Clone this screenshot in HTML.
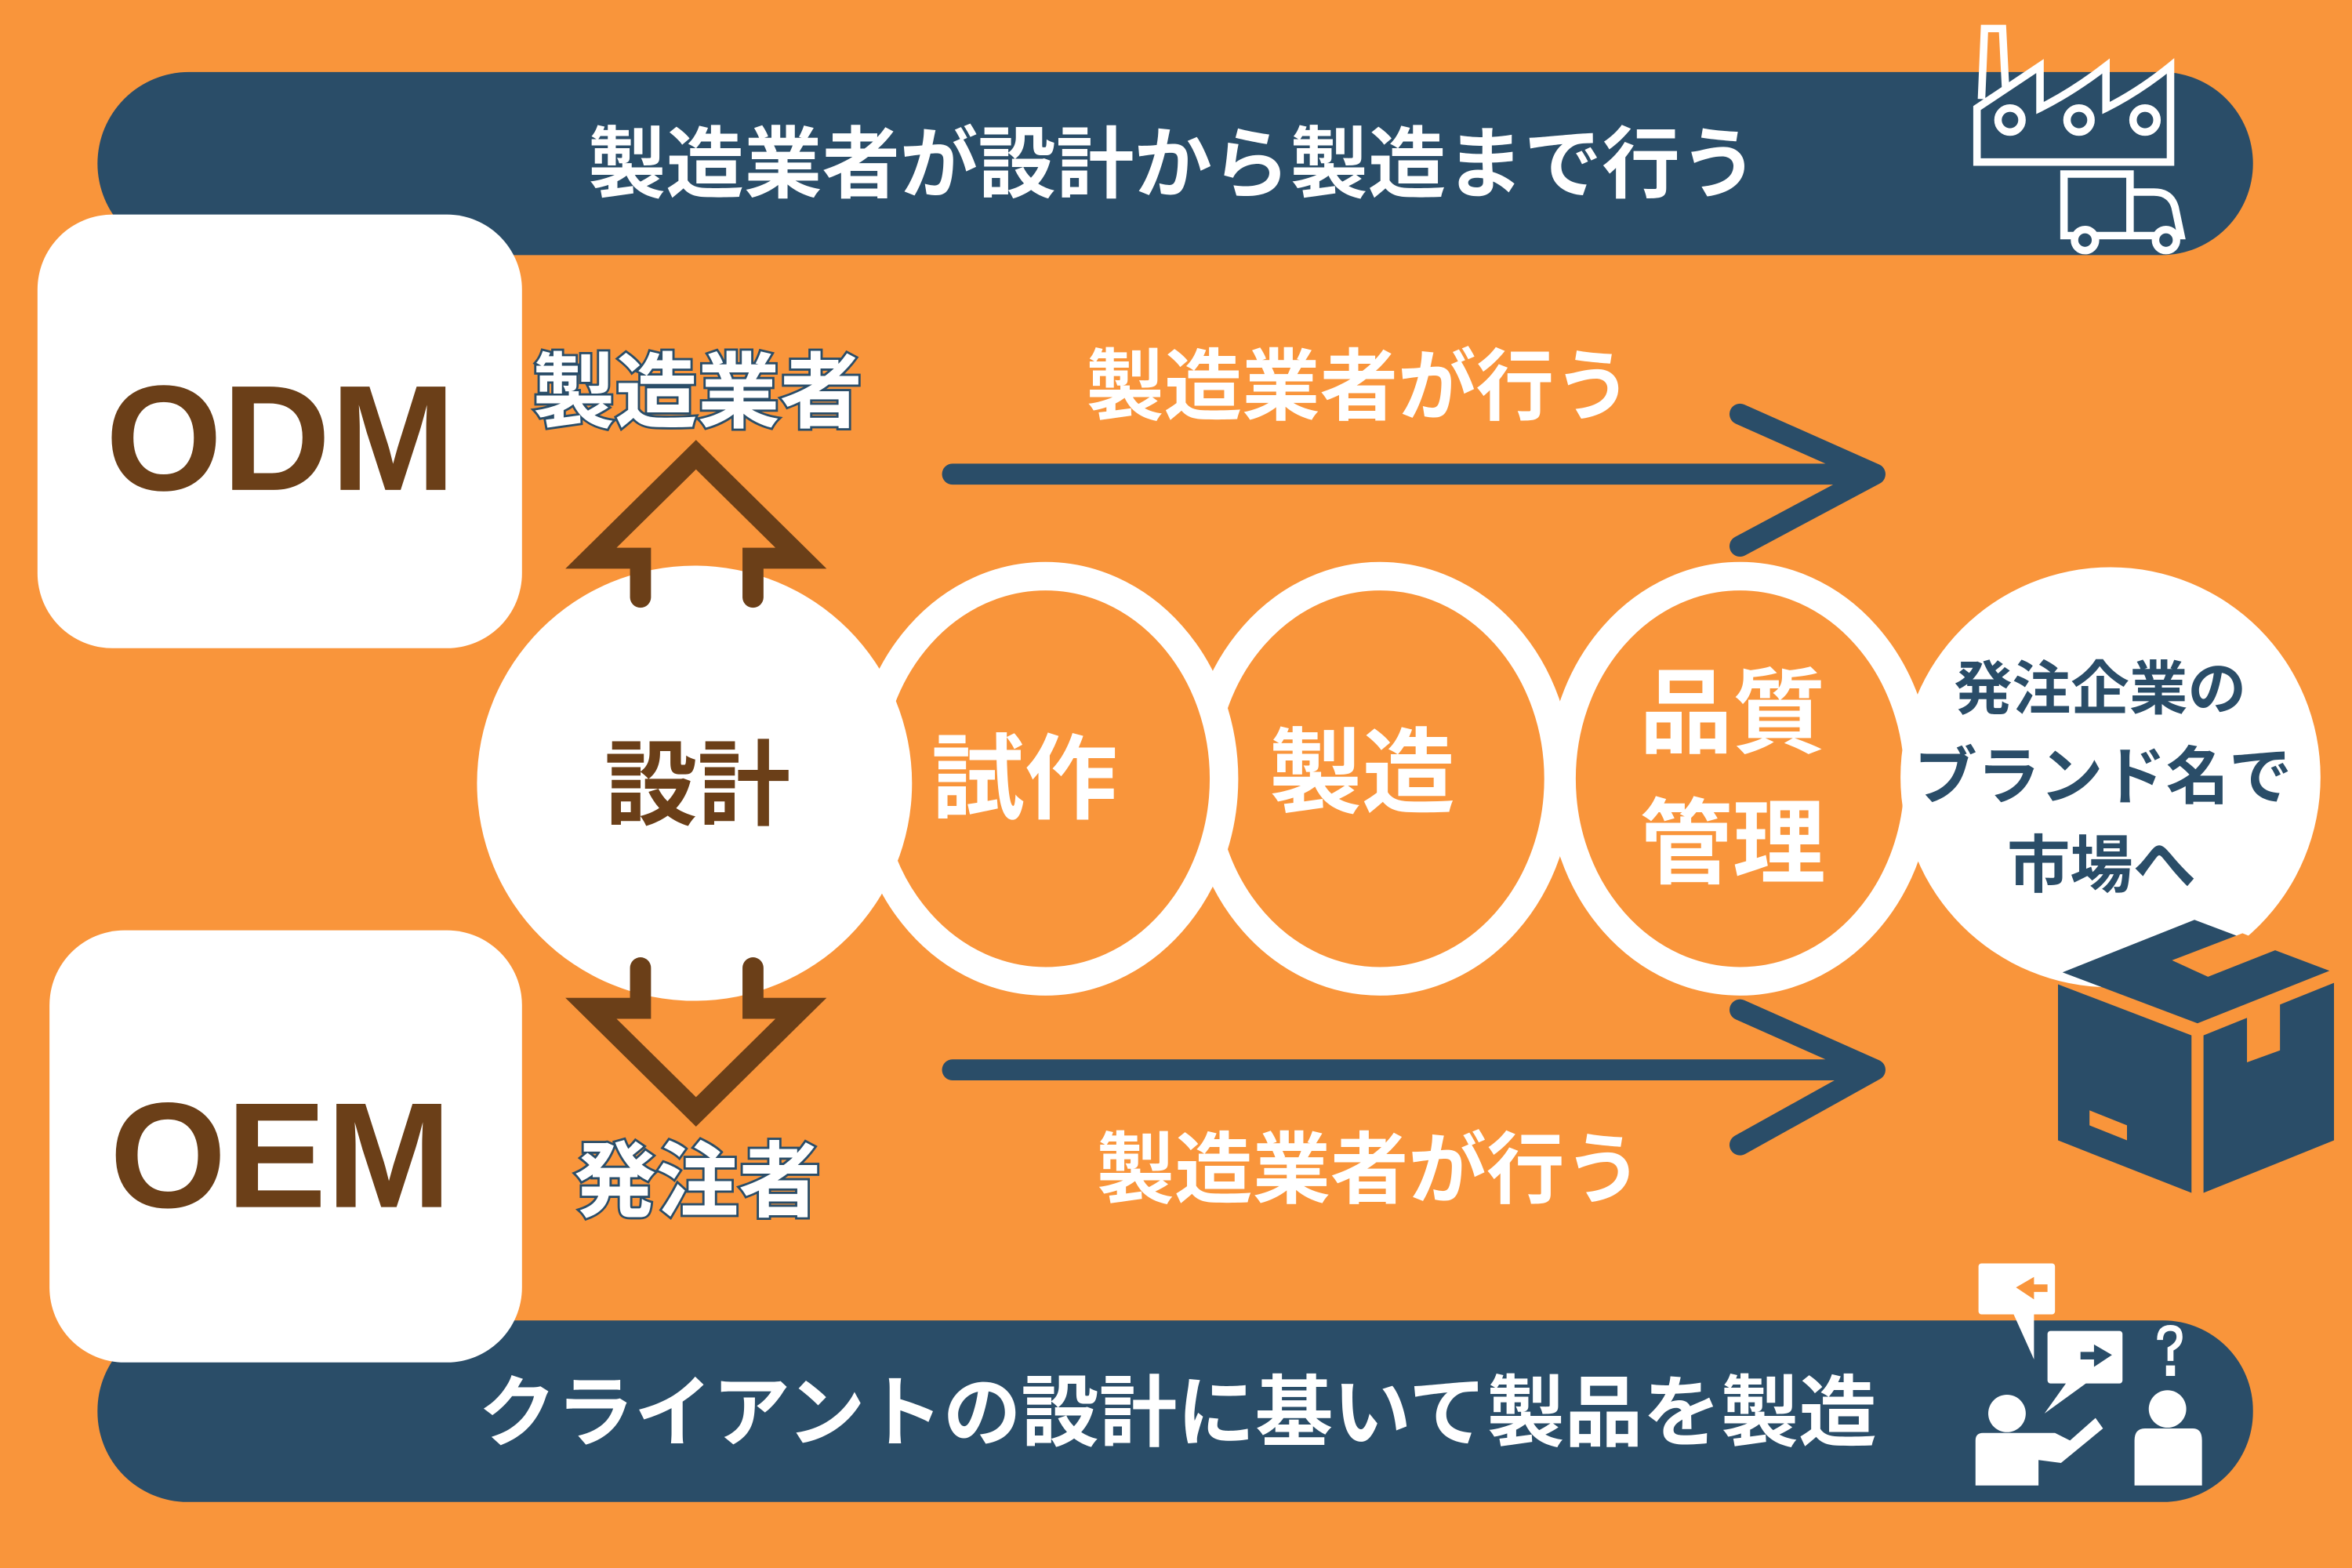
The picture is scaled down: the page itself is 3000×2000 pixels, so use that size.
<!DOCTYPE html>
<html><head><meta charset="utf-8"><style>
html,body{margin:0;padding:0;background:#F9953B;}
svg{display:block}
text{font-family:"Liberation Sans","Noto Sans CJK JP",sans-serif;font-weight:bold;text-anchor:middle;dominant-baseline:central}
</style></head><body>
<svg width="3000" height="2000" viewBox="0 0 1568 1045" preserveAspectRatio="none" xmlns="http://www.w3.org/2000/svg">
<rect width="1568" height="1045" fill="#F9953B"/>
<!-- bars -->
<rect x="65" y="48" width="1437" height="122" rx="61" fill="#2A4D68"/>
<rect x="65" y="880" width="1437" height="121" rx="60" fill="#2A4D68"/>
<text x="782" y="110" font-size="52" fill="#fff">製造業者が設計から製造まで行う</text>
<text x="785" y="942" font-size="52" fill="#fff">クライアントの設計に基いて製品を製造</text>
<!-- boxes -->
<rect x="25" y="143" width="323" height="289" rx="50" fill="#fff"/>
<rect x="33" y="620" width="315" height="288" rx="50" fill="#fff"/>
<text x="187" y="292" font-size="100" fill="#6B3F18">ODM</text>
<text x="187" y="770" font-size="100" fill="#6B3F18">OEM</text>
<!-- circles -->
<ellipse cx="1160" cy="519" rx="119" ry="135" fill="#F9953B" stroke="#fff" stroke-width="19"/>
<ellipse cx="920" cy="519" rx="119" ry="135" fill="#F9953B" stroke="#fff" stroke-width="19"/>
<ellipse cx="697" cy="519" rx="119" ry="135" fill="#F9953B" stroke="#fff" stroke-width="19"/>
<circle cx="463" cy="522" r="145" fill="#fff"/>
<circle cx="1407" cy="518" r="140" fill="#fff"/>
<text x="465" y="524" font-size="62" fill="#6B3F18">設計</text>
<text x="683" y="520" font-size="62" fill="#fff">試作</text>
<text x="908" y="516" font-size="62" fill="#fff">製造</text>
<text x="1155" y="476" font-size="62" fill="#fff">品質</text>
<text x="1155" y="563" font-size="62" fill="#fff">管理</text>
<text x="1400" y="459" font-size="39" fill="#2A4D68">発注企業の</text>
<text x="1402" y="518" font-size="42" fill="#2A4D68" font-weight="normal">ブランド名で</text>
<text x="1401" y="577" font-size="42" fill="#2A4D68" font-weight="normal">市場へ</text>
<!-- up/down arrows -->
<g fill="none" stroke="#6B3F18" stroke-width="14" stroke-linejoin="miter" stroke-linecap="round">
<path d="M427,398 L427,372 L394,372 L464,303 L534,372 L502,372 L502,398"/>
<path d="M427,645 L427,672 L394,672 L464,741 L534,672 L502,672 L502,645"/>
</g>
<text x="465" y="262" font-size="55" fill="#fff" stroke="#2A4D68" stroke-width="3" paint-order="stroke">製造業者</text>
<text x="465" y="788" font-size="55" fill="#fff" stroke="#2A4D68" stroke-width="3" paint-order="stroke">発注者</text>
<!-- long arrows -->
<g fill="none" stroke="#2A4D68" stroke-width="14" stroke-linecap="round" stroke-linejoin="round">
<path d="M635,316 L1248,316 M1160,276 L1250,316 L1160,364"/>
<path d="M635,713 L1248,713 M1160,673 L1250,713 L1160,763"/>
</g>
<text x="906" y="258" font-size="52" fill="#fff">製造業者が行う</text>
<text x="913" y="780" font-size="52" fill="#fff">製造業者が行う</text>
<!-- factory icon -->
<g fill="none" stroke="#fff" stroke-width="5">
<path d="M1321,66 L1323,19 L1335,19 L1337,58"/>
<path d="M1318,108 L1318,72 L1360,44 L1360,72 Q1382,61 1404,44 L1404,72 Q1426,61 1447,44 L1447,108 Z"/>
<circle cx="1340" cy="80" r="8"/><circle cx="1386" cy="80" r="8"/><circle cx="1430" cy="80" r="8"/>
<path d="M1376,116 L1420,116 L1420,128 L1436,128 Q1447,128 1450,138 L1454,157 L1376,157 Z M1420,128 L1420,157"/>
<circle cx="1390" cy="160" r="7" fill="#2A4D68"/><circle cx="1444" cy="160" r="7" fill="#2A4D68"/>
</g>
<!-- box icon -->
<g fill="#2A4D68">
<polygon points="1375,648 1463,613 1553,647 1465,682"/>
<polygon points="1372,656 1461,690 1461,795 1372,760"/>
<polygon points="1469,690 1556,655 1556,760 1469,795"/>
</g>
<polygon points="1448,640 1495,622 1520,632 1472,651" fill="#F9953B"/>
<polygon points="1498,672 1520,663 1520,700 1498,708" fill="#F9953B"/>
<polygon points="1393,740 1418,750 1418,760 1393,750" fill="#F9953B"/>
<!-- people icon -->
<g fill="#fff">
<circle cx="1338" cy="942" r="12.5"/>
<path d="M1322,955 L1370,955 L1380,960 L1397,945 L1402,952 L1374,975 L1359,973 L1359,990 L1317,990 L1317,960 Q1317,955 1322,955 Z"/>
<circle cx="1445" cy="939" r="12.5"/>
<path d="M1430,952 L1462,952 Q1468,952 1468,960 L1468,990 L1423,990 L1423,960 Q1423,952 1430,952 Z"/>
<rect x="1319" y="842" width="51" height="34" rx="2"/>
<polygon points="1342,875 1356,875 1356,906"/>
<rect x="1365" y="887" width="50" height="35" rx="2"/>
<polygon points="1378,921 1392,921 1363,942"/>
<path d="M1438,893 Q1438,883 1447,883 Q1455,883 1455,891 Q1455,897 1449,900 L1449,907 L1445,907 L1445,898 Q1451,895 1451,891 Q1451,887 1447,887 Q1442,887 1442,893 Z"/>
<rect x="1444" y="910" width="6" height="7"/>
</g>
<polygon points="1344,858 1356,851 1356,856 1365,856 1365,861 1356,861 1356,866" fill="#F9953B"/>
<polygon points="1408,903 1396,896 1396,901 1387,901 1387,906 1396,906 1396,911" fill="#2A4D68"/>
</svg>
</body></html>
